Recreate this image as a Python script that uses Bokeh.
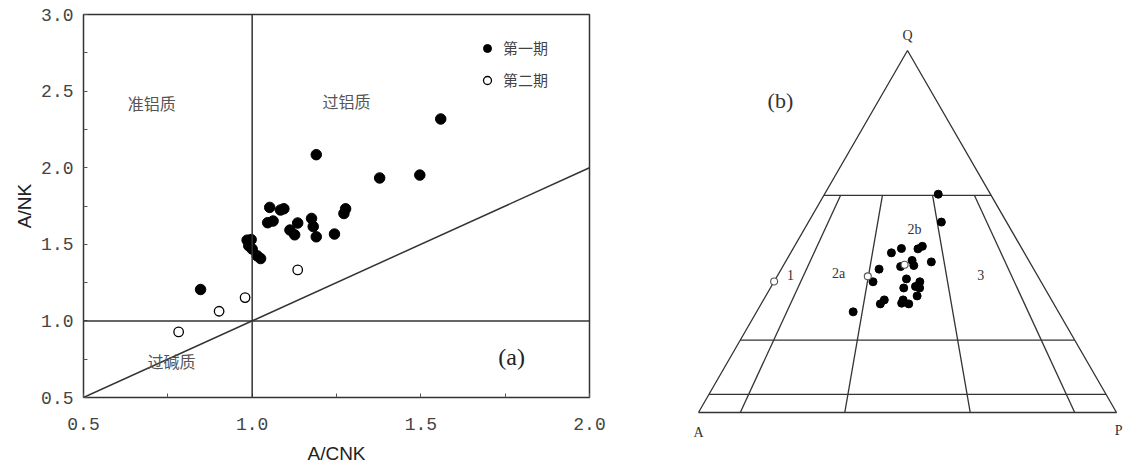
import math
from bokeh.plotting import figure
from bokeh.models import (Range1d, FixedTicker, NumeralTickFormatter, Span, Label,
                          Legend, LegendItem)
from bokeh.layouts import row
from bokeh.embed import file_html
from bokeh.resources import INLINE
from bokeh.core.properties import value

# ---------------- Panel (a): A/CNK vs A/NK ----------------
acnk_1 = [1.559, 1.190, 1.378, 1.497, 1.052, 1.084, 1.094, 1.046, 1.062, 1.135,
          1.176, 1.181, 1.277, 1.272, 1.112, 1.126, 1.190, 1.244, 0.985, 0.997,
          0.990, 1.000, 1.015, 1.025, 0.847]
ank_1 = [2.318, 2.085, 1.933, 1.952, 1.741, 1.724, 1.732, 1.641, 1.652, 1.639,
         1.669, 1.616, 1.732, 1.701, 1.593, 1.562, 1.549, 1.567, 1.527, 1.531,
         1.490, 1.469, 1.425, 1.407, 1.205]
acnk_2 = [0.782, 0.902, 0.979, 1.135]
ank_2 = [0.928, 1.063, 1.152, 1.333]

series_labels = ["第一期", "第二期"]
x_ticks = [0.5, 1.0, 1.5, 2.0]
x_minor = [0.75, 1.25, 1.75]
y_ticks = [0.5, 1.0, 1.5, 2.0, 2.5, 3.0]
y_minor = [0.75, 1.25, 1.75, 2.25, 2.75]
diag_x = [0.5, 2.0]
diag_y = [0.5, 2.0]

# ---------------- Panel (b): QAP ternary ----------------
q_1 = [60.3, 52.6, 45.9, 45.2, 45.3, 44.1, 42.0, 40.6, 40.3, 41.6, 39.6, 36.1,
       36.9, 36.1, 34.4, 34.8, 34.4, 32.2, 31.1, 30.0, 30.2, 30.0, 31.1, 27.8]
a_1 = [12.5, 15.6, 23.5, 24.9, 28.8, 31.8, 27.9, 28.2, 31.5, 23.5, 37.0, 40.2,
       31.8, 29.0, 33.7, 30.7, 29.9, 31.6, 40.0, 41.5, 36.3, 34.7, 35.5, 49.1]
p_1 = [27.2, 31.8, 30.6, 29.9, 25.9, 24.1, 30.1, 31.2, 28.2, 34.9, 23.4, 23.7,
       31.3, 34.9, 31.9, 34.5, 35.7, 36.2, 28.9, 28.5, 33.5, 35.3, 33.4, 23.1]
q_2 = [36.2, 37.6, 40.8]
a_2 = [63.8, 40.7, 30.3]
p_2 = [0.0, 21.7, 28.9]

q_levels = [60, 20, 5]          # horizontal Q boundaries (%)
p_ratios = [10, 35, 65, 90]     # 100*P/(A+P) boundaries (%)
q_top = 60

LINE = "#333333"
TXT = "#444444"


def tern(q, a, p):
    s = q + a + p
    return (p + q / 2.0) / s, (q / s) * math.sqrt(3) / 2.0


# ---------- figure (a) ----------
pa = figure(width=608, height=469, x_range=Range1d(0.5, 2.0), y_range=Range1d(0.5, 3.0),
            output_backend="svg", toolbar_location=None,
            min_border_left=83, min_border_top=14, min_border_right=19, min_border_bottom=72)
pa.frame_align = False
pa.grid.visible = False
pa.outline_line_color = LINE
pa.outline_line_width = 1.5
pa.background_fill_color = "white"

for ax, tk, mn in ((pa.xaxis[0], x_ticks, x_minor), (pa.yaxis[0], y_ticks, y_minor)):
    ax.ticker = FixedTicker(ticks=tk, minor_ticks=mn)
    ax.formatter = NumeralTickFormatter(format="0.0")
    ax.axis_line_color = None
    ax.major_tick_in = 4
    ax.major_tick_out = 0
    ax.minor_tick_in = 4
    ax.minor_tick_out = 0
    ax.major_tick_line_color = "#555555"
    ax.minor_tick_line_color = "#555555"
    ax.major_label_text_font = "Liberation Mono"
    ax.major_label_text_font_size = "18px"
    ax.major_label_text_color = TXT
    ax.axis_label_text_font = "Liberation Sans"
    ax.axis_label_text_font_size = "19px"
    ax.axis_label_text_font_style = "normal"
    ax.axis_label_text_color = "#222222"

pa.xaxis.axis_label = "A/CNK"
pa.yaxis.axis_label = "A/NK"
pa.xaxis.major_label_standoff = 20
pa.xaxis.axis_label_standoff = 10
pa.yaxis.major_label_standoff = 10
pa.yaxis.axis_label_standoff = 3

pa.add_layout(Span(location=1.0, dimension="height", line_color=LINE, line_width=1.5))
pa.add_layout(Span(location=1.0, dimension="width", line_color=LINE, line_width=1.5))
pa.line(diag_x, diag_y, line_color=LINE, line_width=1.5)

r1 = pa.scatter(acnk_1, ank_1, marker="circle", size=10.5, fill_color="black", line_color="black")
r2 = pa.scatter(acnk_2, ank_2, marker="circle", size=9.5, fill_color="white",
                line_color="black", line_width=1.3)

legend = Legend(items=[LegendItem(label=series_labels[0], renderers=[r1]),
                       LegendItem(label=series_labels[1], renderers=[r2])],
                location=(394, 307), padding=0, margin=0, spacing=11,
                glyph_width=20, glyph_height=20, label_standoff=6,
                label_text_font="Noto Sans CJK SC", label_text_font_size="15px",
                label_text_color=TXT, background_fill_alpha=0, border_line_color=None)
pa.add_layout(legend)

for txt, x, y in (("准铝质", 0.702, 2.425), ("过铝质", 1.280, 2.438), ("过碱质", 0.761, 0.739)):
    pa.add_layout(Label(x=x, y=y, text=txt, text_font="Noto Sans CJK SC", text_font_size="16px",
                        text_color="#555555", text_align="center", text_baseline="middle"))
pa.add_layout(Label(x=1.769, y=0.765, text="(a)", text_font="Liberation Serif",
                    text_font_size="24px", text_color="#222222", text_align="center",
                    text_baseline="middle"))

# ---------- figure (b) ----------
pb = figure(width=517, height=469, x_range=Range1d(-0.2153, 1.0215), y_range=Range1d(-0.1364, 0.9856),
            output_backend="svg", toolbar_location=None, min_border=0)
pb.frame_align = False
pb.axis.visible = False
pb.grid.visible = False
pb.outline_line_color = None

xs, ys = [], []
# outer triangle
tri = [tern(0, 100, 0), tern(0, 0, 100), tern(100, 0, 0), tern(0, 100, 0)]
xs.append([t[0] for t in tri]); ys.append([t[1] for t in tri])
for q in q_levels:
    l = tern(q, 100 - q, 0); r = tern(q, 0, 100 - q)
    xs.append([l[0], r[0]]); ys.append([l[1], r[1]])
for rr in p_ratios:
    f = rr / 100.0
    t0 = tern(q_top, (100 - q_top) * (1 - f), (100 - q_top) * f)
    t1 = tern(0, 100 * (1 - f), 100 * f)
    xs.append([t0[0], t1[0]]); ys.append([t0[1], t1[1]])
pb.multi_line(xs, ys, line_color=LINE, line_width=1.3)

pts1 = [tern(q, a, p) for q, a, p in zip(q_1, a_1, p_1)]
pts2 = [tern(q, a, p) for q, a, p in zip(q_2, a_2, p_2)]
pb.scatter([t[0] for t in pts1], [t[1] for t in pts1], marker="circle", size=8,
           fill_color="black", line_color="black")
pb.scatter([t[0] for t in pts2], [t[1] for t in pts2], marker="circle", size=7,
           fill_color="white", line_color="#555555", line_width=1.1)

for txt, x, y, fs in (("Q", 0.5, 0.902, "14px"), ("A", 0.0, -0.048, "14px"),
                      ("P", 1.005, -0.043, "14px"), ("(b)", 0.196, 0.746, "22px"),
                      ("1", 0.220, 0.330, "14px"), ("2a", 0.335, 0.333, "14px"),
                      ("2b", 0.517, 0.438, "14px"), ("3", 0.675, 0.330, "14px")):
    pb.add_layout(Label(x=x, y=y, text=txt, text_font="Liberation Serif", text_font_size=fs,
                        text_color="#333333", text_align="center", text_baseline="middle"))

layout = row(pa, pb)
open("out.html", "w").write(file_html(layout, INLINE))
